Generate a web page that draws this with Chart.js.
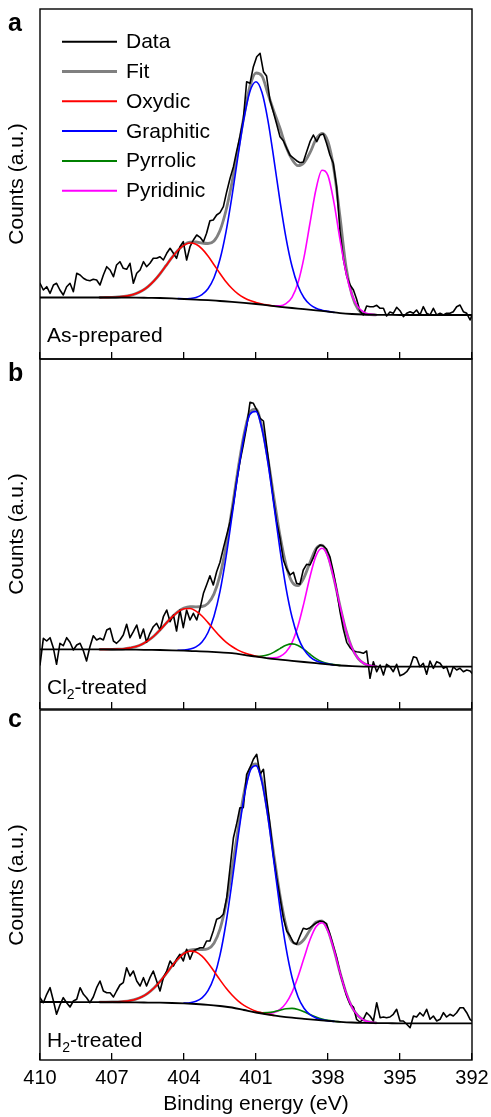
<!DOCTYPE html>
<html><head><meta charset="utf-8">
<script src="https://cdn.jsdelivr.net/npm/chart.js@4.4.1/dist/chart.umd.min.js"></script>
<style>
html,body{margin:0;padding:0;background:#fff;}
#wrap{position:relative;width:491px;height:1117px;overflow:hidden;background:#fff;}
canvas{position:absolute;left:0;}
</style></head><body>
<div id="wrap">
<canvas id="ca" width="491" height="380" style="top:0px"></canvas>
<canvas id="cb" width="491" height="380" style="top:350px"></canvas>
<canvas id="cc" width="491" height="417" style="top:700px"></canvas>
</div>
<script>
// ---------------- data ----------------
const xTicks = [410, 407, 404, 401, 398, 395, 392];
const legendItems = ['Data', 'Fit', 'Oxydic', 'Graphitic', 'Pyrrolic', 'Pyridinic'];
const panelLetters = ['a', 'b', 'c'];
const sampleNames = [
  [{t: 'As-prepared'}],
  [{t: 'Cl'}, {t: '2', sub: true}, {t: '-treated'}],
  [{t: 'H'}, {t: '2', sub: true}, {t: '-treated'}]
];

// binding energy (eV) of measured points
const dataEnergy = [
  410.00, 409.86, 409.72, 409.58, 409.44, 409.31, 409.17, 409.03, 408.89, 408.75,
  408.61, 408.47, 408.33, 408.19, 408.06, 407.92, 407.78, 407.64, 407.50, 407.36,
  407.22, 407.08, 406.94, 406.81, 406.67, 406.53, 406.39, 406.25, 406.11, 405.97,
  405.83, 405.69, 405.56, 405.42, 405.28, 405.14, 405.00, 404.86, 404.72, 404.58,
  404.44, 404.31, 404.17, 404.03, 403.89, 403.75, 403.61, 403.47, 403.33, 403.19,
  403.06, 402.92, 402.78, 402.64, 402.50, 402.36, 402.22, 402.08, 401.94, 401.81,
  401.67, 401.53, 401.39, 401.25, 401.11, 400.97, 400.83, 400.69, 400.56, 400.42,
  400.28, 400.14, 400.00, 399.86, 399.72, 399.58, 399.44, 399.31, 399.17, 399.03,
  398.89, 398.75, 398.61, 398.47, 398.33, 398.19, 398.06, 397.92, 397.78, 397.64,
  397.50, 397.36, 397.22, 397.08, 396.94, 396.81, 396.67, 396.53, 396.39, 396.25,
  396.11, 395.97, 395.83, 395.69, 395.56, 395.42, 395.28, 395.14, 395.00, 394.86,
  394.72, 394.58, 394.44, 394.31, 394.17, 394.03, 393.89, 393.75, 393.61, 393.47,
  393.33, 393.19, 393.06, 392.92, 392.78, 392.64, 392.50, 392.36, 392.22, 392.08,
  392.00
];
const countsA = [
  75.7, 69.0, 72.3, 65.7, 74.0, 75.7, 69.0, 64.0, 72.3, 75.7,
  67.3, 85.7, 84.0, 80.7, 79.0, 78.3, 79.7, 79.0, 74.0, 84.0,
  92.3, 89.0, 82.3, 94.0, 97.3, 90.7, 89.7, 95.7, 75.7, 85.7,
  89.0, 97.3, 92.3, 95.7, 100.7, 100.7, 102.3, 99.0, 105.7, 110.7,
  105.7, 100.7, 112.3, 117.3, 99.0, 112.3, 119.0, 124.0, 121.7, 117.3,
  125.7, 138.3, 139.0, 144.0, 146.3, 152.3, 167.3, 180.7, 192.3, 207.3,
  222.3, 239.0, 277.3, 275.7, 292.3, 302.3, 305.7, 287.3, 283.0, 259.0,
  247.3, 235.0, 222.3, 218.3, 210.7, 203.7, 201.0, 198.3, 196.3, 197.0,
  207.3, 217.3, 224.0, 217.3, 224.0, 225.0, 215.7, 204.0, 195.7, 172.0,
  128.0, 100.0, 83.0, 74.0, 69.0, 60.0, 48.0, 44.0, 53.0, 52.3,
  52.3, 53.7, 50.7, 50.7, 43.0, 47.0, 45.7, 51.7, 48.3, 42.3,
  45.7, 47.3, 45.7, 49.0, 44.0, 52.3, 45.7, 44.0, 50.7, 44.0,
  45.7, 44.0, 45.7, 45.7, 47.3, 52.3, 54.0, 47.3, 45.7, 39.0,
  44.0
];
const countsB = [
  44.0, 70.7, 68.0, 71.3, 60.7, 44.7, 65.7, 63.3, 71.3, 66.7,
  59.0, 64.0, 65.7, 58.0, 48.0, 62.3, 73.3, 69.0, 70.7, 69.0,
  79.0, 80.7, 68.0, 65.7, 69.0, 74.0, 84.7, 71.3, 77.3, 84.0,
  70.7, 80.0, 66.7, 75.7, 82.3, 85.7, 79.0, 92.3, 99.0, 87.3,
  94.0, 78.0, 99.0, 81.3, 99.0, 89.0, 95.7, 89.0, 100.7, 115.7,
  124.0, 133.3, 124.0, 137.3, 146.7, 160.7, 174.0, 187.3, 205.7, 227.3,
  247.3, 264.0, 282.3, 306.7, 305.7, 299.0, 290.7, 288.0, 264.0, 237.3,
  210.7, 187.3, 170.7, 149.0, 140.0, 134.0, 136.7, 125.7, 124.7, 139.0,
  144.7, 144.0, 151.3, 160.7, 164.0, 163.0, 160.0, 152.3, 137.3, 119.0,
  97.3, 80.0, 66.7, 61.3, 58.0, 57.3, 56.7, 55.7, 58.0, 30.7,
  47.3, 37.3, 44.0, 34.0, 44.7, 42.3, 37.3, 44.7, 33.3, 34.7,
  37.3, 42.3, 52.3, 51.3, 42.3, 45.7, 34.7, 48.0, 40.7, 47.3,
  45.7, 40.7, 42.3, 32.3, 42.3, 39.0, 40.7, 37.3, 39.0, 38.0,
  35.7
];
const countsC = [
  62.3, 57.3, 65.7, 72.3, 59.0, 45.7, 55.0, 62.3, 57.3, 53.0,
  59.0, 60.7, 72.3, 65.7, 62.3, 57.3, 63.0, 72.3, 79.0, 69.0,
  67.3, 67.3, 63.0, 69.0, 75.0, 77.3, 92.3, 84.0, 89.0, 79.0,
  74.0, 82.3, 74.0, 82.3, 89.0, 79.0, 69.0, 82.3, 89.0, 99.0,
  94.0, 100.7, 105.7, 99.0, 110.7, 100.7, 109.0, 110.7, 112.3, 112.3,
  119.0, 119.0, 129.0, 140.7, 142.3, 145.7, 162.3, 192.3, 222.3, 235.7,
  252.3, 252.3, 285.7, 292.3, 300.7, 305.7, 285.7, 290.7, 262.3, 235.7,
  205.7, 182.3, 162.3, 142.3, 129.0, 124.0, 117.3, 115.7, 124.0, 131.7,
  130.7, 132.3, 135.0, 137.3, 139.0, 138.3, 136.3, 125.7, 114.0, 102.3,
  87.3, 75.7, 64.0, 55.7, 53.0, 40.7, 38.0, 40.7, 47.3, 44.0,
  39.0, 57.3, 42.3, 43.0, 42.3, 43.0, 45.7, 50.7, 39.0, 39.0,
  35.7, 32.3, 44.0, 43.0, 47.3, 44.0, 50.7, 40.7, 44.0, 39.0,
  40.7, 47.3, 43.0, 45.7, 44.0, 47.3, 52.3, 52.3, 47.3, 40.7,
  39.0
];

// background energies
const bgEnergy = [410, 409.5, 409, 408.5, 408, 407.5, 407, 406.5, 406, 405.5, 405, 404.5, 404,
  403.5, 403, 402.5, 402, 401.5, 401, 400.5, 400, 399.5, 399, 398.5, 398, 397.5, 397, 396.5,
  396, 395.5, 395, 394.5, 394, 393.5, 393, 392.5, 392];
const backgroundA = [61.5, 61.5, 61.5, 61.5, 61.5, 61.5, 61.5, 61.5, 61.4, 61.2, 61.0, 60.6, 60.0,
  59.4, 58.8, 58.0, 57.2, 56.2, 55.0, 53.6, 52.2, 51.0, 49.9, 48.7, 47.3, 45.9, 45.0, 44.5,
  44.2, 44.1, 44.0, 44.0, 44.0, 44.0, 44.0, 44.0, 44.0];
const backgroundB = [59.7, 59.7, 59.7, 59.65, 59.6, 59.55, 59.5, 59.4, 59.3, 59.15, 59.0, 58.7, 58.3,
  57.8, 57.3, 56.6, 55.8, 54.2, 52.3, 50.7, 49.4, 48.2, 47.0, 45.8, 44.6, 43.5, 42.8, 42.4,
  42.3, 42.3, 42.3, 42.3, 42.3, 42.3, 42.3, 42.3, 42.3];
const backgroundC = [58.0, 58.0, 58.0, 57.95, 57.9, 57.85, 57.8, 57.7, 57.6, 57.45, 57.3, 57.0, 56.6,
  56.0, 55.2, 54.0, 52.5, 50.0, 47.5, 45.4, 43.7, 42.3, 41.2, 40.2, 39.1, 38.2, 37.5, 37.1,
  36.9, 36.8, 36.7, 36.7, 36.7, 36.7, 36.7, 36.7, 36.7];

// energies of the fitted curves
const fitEnergy = [407.5, 407.25, 407, 406.75, 406.5, 406.25, 406, 405.75, 405.5, 405.25,
  405, 404.75, 404.5, 404.25, 404, 403.75, 403.5, 403.25, 403, 402.75,
  402.5, 402.25, 402, 401.75, 401.5, 401.25, 401, 400.75, 400.5, 400.25,
  400, 399.75, 399.5, 399.25, 399, 398.75, 398.5, 398.25, 398, 397.75,
  397.5, 397.25, 397, 396.75, 396.5, 396.25, 396];
const N = null;

// panel a
const fitA = [61.5, 61.6, 61.7, 62.0, 62.6, 63.6, 65.4, 68.2, 72.4, 78.1,
  85.2, 93.3, 101.6, 108.8, 114.2, 116.8, 117.0, 116.0, 115.5, 118.0,
  128.5, 148.5, 176.5, 209.0, 243.0, 273.0, 286.0, 283.0, 265.0, 247.3,
  230.7, 212.3, 199.7, 193.3, 196.3, 206.3, 219.7, 225.7, 217.3, 189.0,
  142.3, 92.3, 64.0, 49.7, 45.0, 44.4, 44.2];
const oxydicA = [61.5, 61.6, 61.7, 62.0, 62.6, 63.6, 65.4, 68.2, 72.4, 78.1,
  85.2, 93.3, 101.6, 108.8, 113.9, 116.0, 114.7, 110.1, 102.9, 94.3,
  85.5, 77.3, 70.5, 65.1, 61.2, 58.4, 56.5, 55.0, 53.9, 52.9,
  N, N, N, N, N, N, N, N, N, N, N, N, N, N, N, N, N];
const graphiticA = [N, N, N, N, N, N, N, N, N, N, N, N, N,
  60.4, 60.3, 60.5, 61.5, 64.3, 70.2, 81.2, 99.7, 127.2, 162.9, 203.0, 240.8, 267.8, 277.3,
  266.5, 238.2, 199.2, 157.9, 121.2, 92.7, 73.3, 61.3, 54.5, 50.8, 48.8, 47.6, 46.6,
  N, N, N, N, N, N, N];
const pyrrolicA = [];
const pyridinicA = [N, N, N, N, N, N, N, N, N, N, N, N, N, N, N, N, N, N, N, N,
  N, N, N, N, N, N, N, N, N,
  53.2, 53.2, 55.3, 61.6, 76.2, 101.6, 136.0, 169.7, 188.7, 183.4, 156.2,
  119.4, 86.5, 64.1, 52.1, 46.9, 44.9, 44.2];

// panel b
const fitB = [59.6, 59.6, 59.7, 59.9, 60.2, 61.1, 62.4, 64.7, 68.3, 73.0,
  79.0, 85.6, 91.9, 97.3, 100.9, 102.3, 102.2, 102.5, 105.6, 115.1,
  133.6, 162.5, 199.7, 239.5, 274.4, 297.0, 299.8, 281.7, 249.7, 210.9,
  173.4, 144.2, 127.1, 123.3, 131.4, 146.5, 160.2, 163.8, 153.1, 130.3,
  103.0, 78.6, 61.0, 50.7, 45.5, 43.4, 42.6];
const oxydicB = [59.6, 59.6, 59.7, 59.9, 60.2, 61.1, 62.4, 64.7, 68.3, 73.0,
  79.0, 85.6, 91.9, 97.1, 100.2, 100.5, 97.9, 93.0, 86.4, 79.3,
  72.6, 66.9, 62.5, 58.9, 56.3, 54.4, 52.8, 51.7,
  N, N, N, N, N, N, N, N, N, N, N, N, N, N, N, N, N, N, N];
const graphiticB = [N, N, N, N, N, N, N, N, N, N, N, N, N,
  58.7, 59.0, 59.9, 62.1, 67.1, 76.5, 92.8, 117.6, 151.8, 193.0, 235.6, 272.3, 294.8, 297.6,
  280.0, 245.9, 203.1, 159.3, 121.2, 92.0, 71.9, 59.3, 52.2, 48.3, 46.2, 45.0, 44.05,
  N, N, N, N, N, N, N];
const pyrrolicB = [N, N, N, N, N, N, N, N, N, N, N, N, N, N, N, N, N, N, N, N, N, N, N, N, N,
  53.5, 52.8, 53.0, 54.2, 56.9, 60.4, 63.7, 65.1, 63.6, 59.7, 54.8, 50.4, 47.3, 45.4, 44.4, 43.6,
  N, N, N, N, N, N];
const pyridinicB = [N, N, N, N, N, N, N, N, N, N, N, N, N, N, N, N, N, N, N, N,
  N, N, N, N, N, N, N, N,
  51.0, 51.1, 52.5, 56.9, 66.4, 83.0, 106.4, 132.3, 153.1, 160.7, 151.9, 130.0,
  102.9, 78.6, 61.0, 50.7, 45.5, 43.4, 42.6];

// panel c
const fitC = [57.9, 57.9, 58.0, 58.2, 58.6, 59.4, 60.8, 63.2, 66.9, 72.0,
  78.5, 86.1, 94.0, 101.3, 106.9, 109.9, 110.7, 110.3, 111.2, 116.8,
  130.9, 155.7, 190.4, 230.3, 267.1, 291.4, 296.0, 279.6, 245.9, 204.1,
  164.5, 134.4, 118.5, 116.0, 120.5, 130.0, 137.9, 139.2, 129.6, 110.4,
  87.6, 67.4, 52.8, 44.2, 39.8, 37.9, 37.2];
const oxydicC = [57.9, 57.9, 58.0, 58.2, 58.6, 59.4, 60.8, 63.2, 66.9, 72.0,
  78.5, 86.1, 94.0, 101.2, 106.5, 108.9, 108.0, 103.8, 97.1, 88.7,
  80.1, 72.0, 65.0, 59.2, 54.7, 51.4, 48.8, 47.1, 45.7, 44.5,
  N, N, N, N, N, N, N, N, N, N, N, N, N, N, N, N, N];
const graphiticC = [N, N, N, N, N, N, N, N, N, N, N, N, N, N,
  57.0, 57.3, 58.7, 62.1, 69.3, 82.7, 104.8, 137.0, 177.9, 222.4, 262.4, 288.8, 294.4,
  277.6, 242.4, 197.3, 151.6, 112.3, 82.8, 63.3, 51.7, 45.3, 42.1, 40.3, 39.3, 38.6,
  N, N, N, N, N, N, N];
const pyrrolicC = [N, N, N, N, N, N, N, N, N, N, N, N, N, N, N, N, N, N, N, N, N, N, N, N, N, N,
  47.8, 47.3, 47.4, 48.3, 49.8, 51.2, 51.6, 50.5, 48.2, 45.4, 42.9, 40.9, 39.6, 38.8, 38.2,
  N, N, N, N, N, N];
const pyridinicC = [N, N, N, N, N, N, N, N, N, N, N, N, N, N, N, N, N, N, N, N,
  N, N, N, N, N, N, N,
  46.8, 46.6, 47.5, 50.5, 56.9, 67.7, 83.3, 102.0, 120.2, 133.3, 137.2, 128.9, 110.2,
  87.6, 67.4, 52.8, 44.2, 39.8, 37.9, 37.2];

// ---------------- drawing ----------------
const FAM = "'Liberation Sans', Arial, Helvetica, sans-serif";
Chart.defaults.font.family = FAM;
Chart.defaults.color = '#000';

const pts = (xs, ys) => ys.map((y, i) => ({x: xs[i], y: y}));

const decor = {
  id: 'decor',
  afterDraw(chart, args, o) {
    const ctx = chart.ctx, a = chart.chartArea;
    ctx.save();
    ctx.strokeStyle = '#000';
    ctx.lineWidth = 1.4;
    ctx.strokeRect(a.left, a.top, a.right - a.left, a.bottom - a.top);
    ctx.fillStyle = '#000';
    ctx.textAlign = 'left';
    ctx.textBaseline = 'alphabetic';
    ctx.font = 'bold 25px ' + FAM;
    ctx.fillText(o.letter, 8, a.top + o.letterDy);
    let x = 47;
    const y = a.bottom + o.nameDy;
    o.name.forEach(p => {
      ctx.font = (p.sub ? '14px ' : '21px ') + FAM;
      ctx.fillText(p.t, x, y + (p.sub ? 4.5 : 0));
      x += ctx.measureText(p.t).width;
    });
    if (o.legend) {
      legendItems.forEach((lab, i) => {
        const ds = chart.data.datasets.find(d => d.label === lab);
        const yy = 41.7 + i * 29.8;
        ctx.strokeStyle = ds.borderColor;
        ctx.lineWidth = lab === 'Fit' ? 3 : 2;
        ctx.beginPath(); ctx.moveTo(62, yy); ctx.lineTo(117, yy); ctx.stroke();
        ctx.font = '21px ' + FAM;
        ctx.fillText(lab, 126, yy + 6.5);
      });
    }
    ctx.restore();
  }
};

const panels = [
  {id: 'ca', padTop: 9, xH: 21, showX: false, counts: countsA, bg: backgroundA, fit: fitA,
   ox: oxydicA, gr: graphiticA, py: pyrrolicA, pd: pyridinicA, letterDy: 21.7, nameDy: -16.7, legend: true},
  {id: 'cb', padTop: 9, xH: 21, showX: false, counts: countsB, bg: backgroundB, fit: fitB,
   ox: oxydicB, gr: graphiticB, py: pyrrolicB, pd: pyridinicB, letterDy: 22, nameDy: -14.7, legend: false},
  {id: 'cc', padTop: 10, xH: 57, showX: true, counts: countsC, bg: backgroundC, fit: fitC,
   ox: oxydicC, gr: graphiticC, py: pyrrolicC, pd: pyridinicC, letterDy: 17, nameDy: -12.7, legend: false}
];

panels.forEach((p, k) => {
  const smooth = {cubicInterpolationMode: 'monotone', spanGaps: false};
  new Chart(document.getElementById(p.id), {
    type: 'line',
    data: {
      datasets: [
        Object.assign({label: 'Background', data: pts(bgEnergy, p.bg), borderColor: '#000', borderWidth: 1.8, order: 0}, smooth),
        Object.assign({label: 'Oxydic', data: pts(fitEnergy, p.ox), borderColor: '#ff0000', borderWidth: 1.6, order: 1}, smooth),
        Object.assign({label: 'Graphitic', data: pts(fitEnergy, p.gr), borderColor: '#0000ff', borderWidth: 1.6, order: 1}, smooth),
        Object.assign({label: 'Pyrrolic', data: pts(fitEnergy, p.py), borderColor: '#008000', borderWidth: 1.6, order: 1}, smooth),
        Object.assign({label: 'Pyridinic', data: pts(fitEnergy, p.pd), borderColor: '#ff00ff', borderWidth: 1.6, order: 1}, smooth),
        {label: 'Data', data: pts(dataEnergy, p.counts), borderColor: '#000', borderWidth: 1.6, order: 2, tension: 0},
        Object.assign({label: 'Fit', data: pts(fitEnergy, p.fit), borderColor: '#808080', borderWidth: 2.8, order: 3}, smooth)
      ]
    },
    options: {
      responsive: false,
      animation: false,
      devicePixelRatio: 1,
      events: [],
      parsing: false,
      layout: {padding: {left: 0, right: 19, top: p.padTop, bottom: 0}},
      elements: {point: {radius: 0}, line: {fill: false, borderJoinStyle: 'round', borderCapStyle: 'round'}},
      plugins: {
        legend: {display: false},
        tooltip: {enabled: false},
        decor: {letter: panelLetters[k], name: sampleNames[k], letterDy: p.letterDy, nameDy: p.nameDy, legend: p.legend}
      },
      scales: {
        x: {
          type: 'linear', reverse: true, min: 392, max: 410,
          afterFit(s) { s.height = p.xH; s.paddingLeft = 0; s.paddingRight = 0; },
          afterBuildTicks(s) { s.ticks = xTicks.map(v => ({value: v})); },
          grid: {display: true, drawOnChartArea: false, drawTicks: true, tickLength: -7, color: '#000', lineWidth: 1.3},
          border: {display: false},
          ticks: {display: p.showX, autoSkip: false, maxRotation: 0, padding: 13, color: '#000', font: {size: 20}},
          title: {display: p.showX, text: 'Binding energy (eV)', color: '#000', font: {size: 21}, padding: {top: 0, bottom: 0}}
        },
        y: {
          min: 0, max: 350,
          afterFit(s) { s.width = 40; },
          grid: {display: false},
          border: {display: false},
          ticks: {display: false},
          title: {display: true, text: 'Counts (a.u.)', color: '#000', font: {size: 21}, padding: {top: 4.9, bottom: 0}}
        }
      }
    },
    plugins: [decor]
  });
});
</script>
</body></html>
